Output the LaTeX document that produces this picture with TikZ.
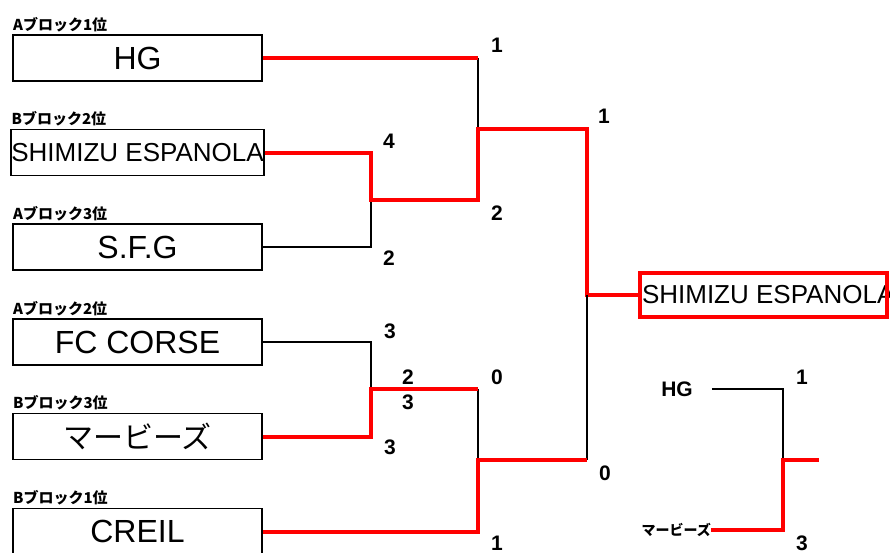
\documentclass[tikz,border=0pt]{standalone}
\usepackage{fontspec}
\setmainfont{Liberation Sans}
\newfontfamily\jp{Noto Sans CJK JP}
\usetikzlibrary{positioning}

\begin{document}
\begin{tikzpicture}[x=1pt, y=-1pt,
  team/.style={draw, line width=1.7pt, minimum width=249.5pt, minimum height=46pt, inner sep=0pt, font=\fontsize{32}{32}\selectfont},
  blk/.style={anchor=base west, inner sep=0pt, font=\jp\bfseries\fontsize{15}{15}\selectfont},
  score/.style={inner sep=0pt, font=\bfseries\fontsize{21}{21}\selectfont},
  win/.style={red, line width=4pt},
  lose/.style={black, line width=1.5pt}]
  \useasboundingbox (0,0) rectangle (890,552);

  % teams
  \node[team] (hg) at (137.5,58) {HG};
  \node[team, font=\fontsize{26}{26}\selectfont] (shimizu) at (137.5,152.5) {SHIMIZU ESPANOLA};
  \node[team] (sfg) at (137.5,247) {S.F.G};
  \node[team] (fc) at (137.5,342) {FC CORSE};
  \node[team, font=\jp\fontsize{30}{30}\selectfont] (marv) at (137.5,436.5) {マービーズ};
  \node[team] (creil) at (137.5,531.5) {CREIL};
  \node[blk] (lhg) at ([shift={(1,-4)}]hg.north west) {Aブロック1位};
  \node[blk] (lshimizu) at ([shift={(1,-4)}]shimizu.north west) {Bブロック2位};
  \node[blk] (lsfg) at ([shift={(1,-4)}]sfg.north west) {Aブロック3位};
  \node[blk] (lfc) at ([shift={(1,-4)}]fc.north west) {Aブロック2位};
  \node[blk] (lmarv) at ([shift={(1,-4)}]marv.north west) {Bブロック3位};
  \node[blk] (lcreil) at ([shift={(1,-4)}]creil.north west) {Bブロック1位};

  % final
  \node[minimum width=247pt, minimum height=44pt, inner sep=0pt] (champ) at (763.5,295) {};
  \node[anchor=west, inner sep=0pt, font=\fontsize{26}{26}\selectfont] (champtxt) at ([xshift=2pt]champ.west) {SHIMIZU ESPANOLA};
  \draw[red, line width=4pt] (champ.south west) rectangle (champ.north east);
  \node[score] (hg3) at (677,389) {HG};
  \node[anchor=east, inner sep=0pt, font=\jp\bfseries\fontsize{14}{14}\selectfont] (marv3) at (711,530) {マービーズ};

  \coordinate (m1) at (371,200);
  \coordinate (s1) at (478,129);
  \coordinate (m2) at (371,389);
  \coordinate (s2) at (478,460);
  \coordinate (f) at (587,295);
  \coordinate (t) at (783,460);
  \coordinate (tend) at (819,460);

  % bracket
  \draw[lose] (sfg.east) -| (m1);
  \draw[lose] (hg.east -| s1) -- (s1);
  \draw[win] (hg.east) -- (hg.east -| s1);
  \draw[win] (shimizu.east) -| (m1) -| (s1) -| (f) -- (champ.west);
  \draw[lose] (fc.east) -| (m2);
  \draw[lose] (m2 -| s2) -- (s2);
  \draw[lose] (s2 -| f) -- (f);
  \draw[win] (marv.east) -| (m2) -- (m2 -| s2);
  \draw[win] (creil.east) -| (s2) -- (s2 -| f);
  \draw[lose] ([xshift=19pt]hg3.east) -| (t);
  \draw[win] (marv3.east) -| (t) -- (tend);

  % scores
  \foreach \p/\v [count=\i] in {{497,45}/1, {389,141}/4, {497,213}/2, {389,258}/2, {604,116}/1,
    {390,331}/3, {408,377}/2, {408,402}/3, {497,377}/0, {390,447}/3, {605,473}/0, {497,543}/1,
    {802,377}/1, {802,543}/3}
    \node[score] (sc\i) at (\p) {\v};
\end{tikzpicture}
\end{document}
